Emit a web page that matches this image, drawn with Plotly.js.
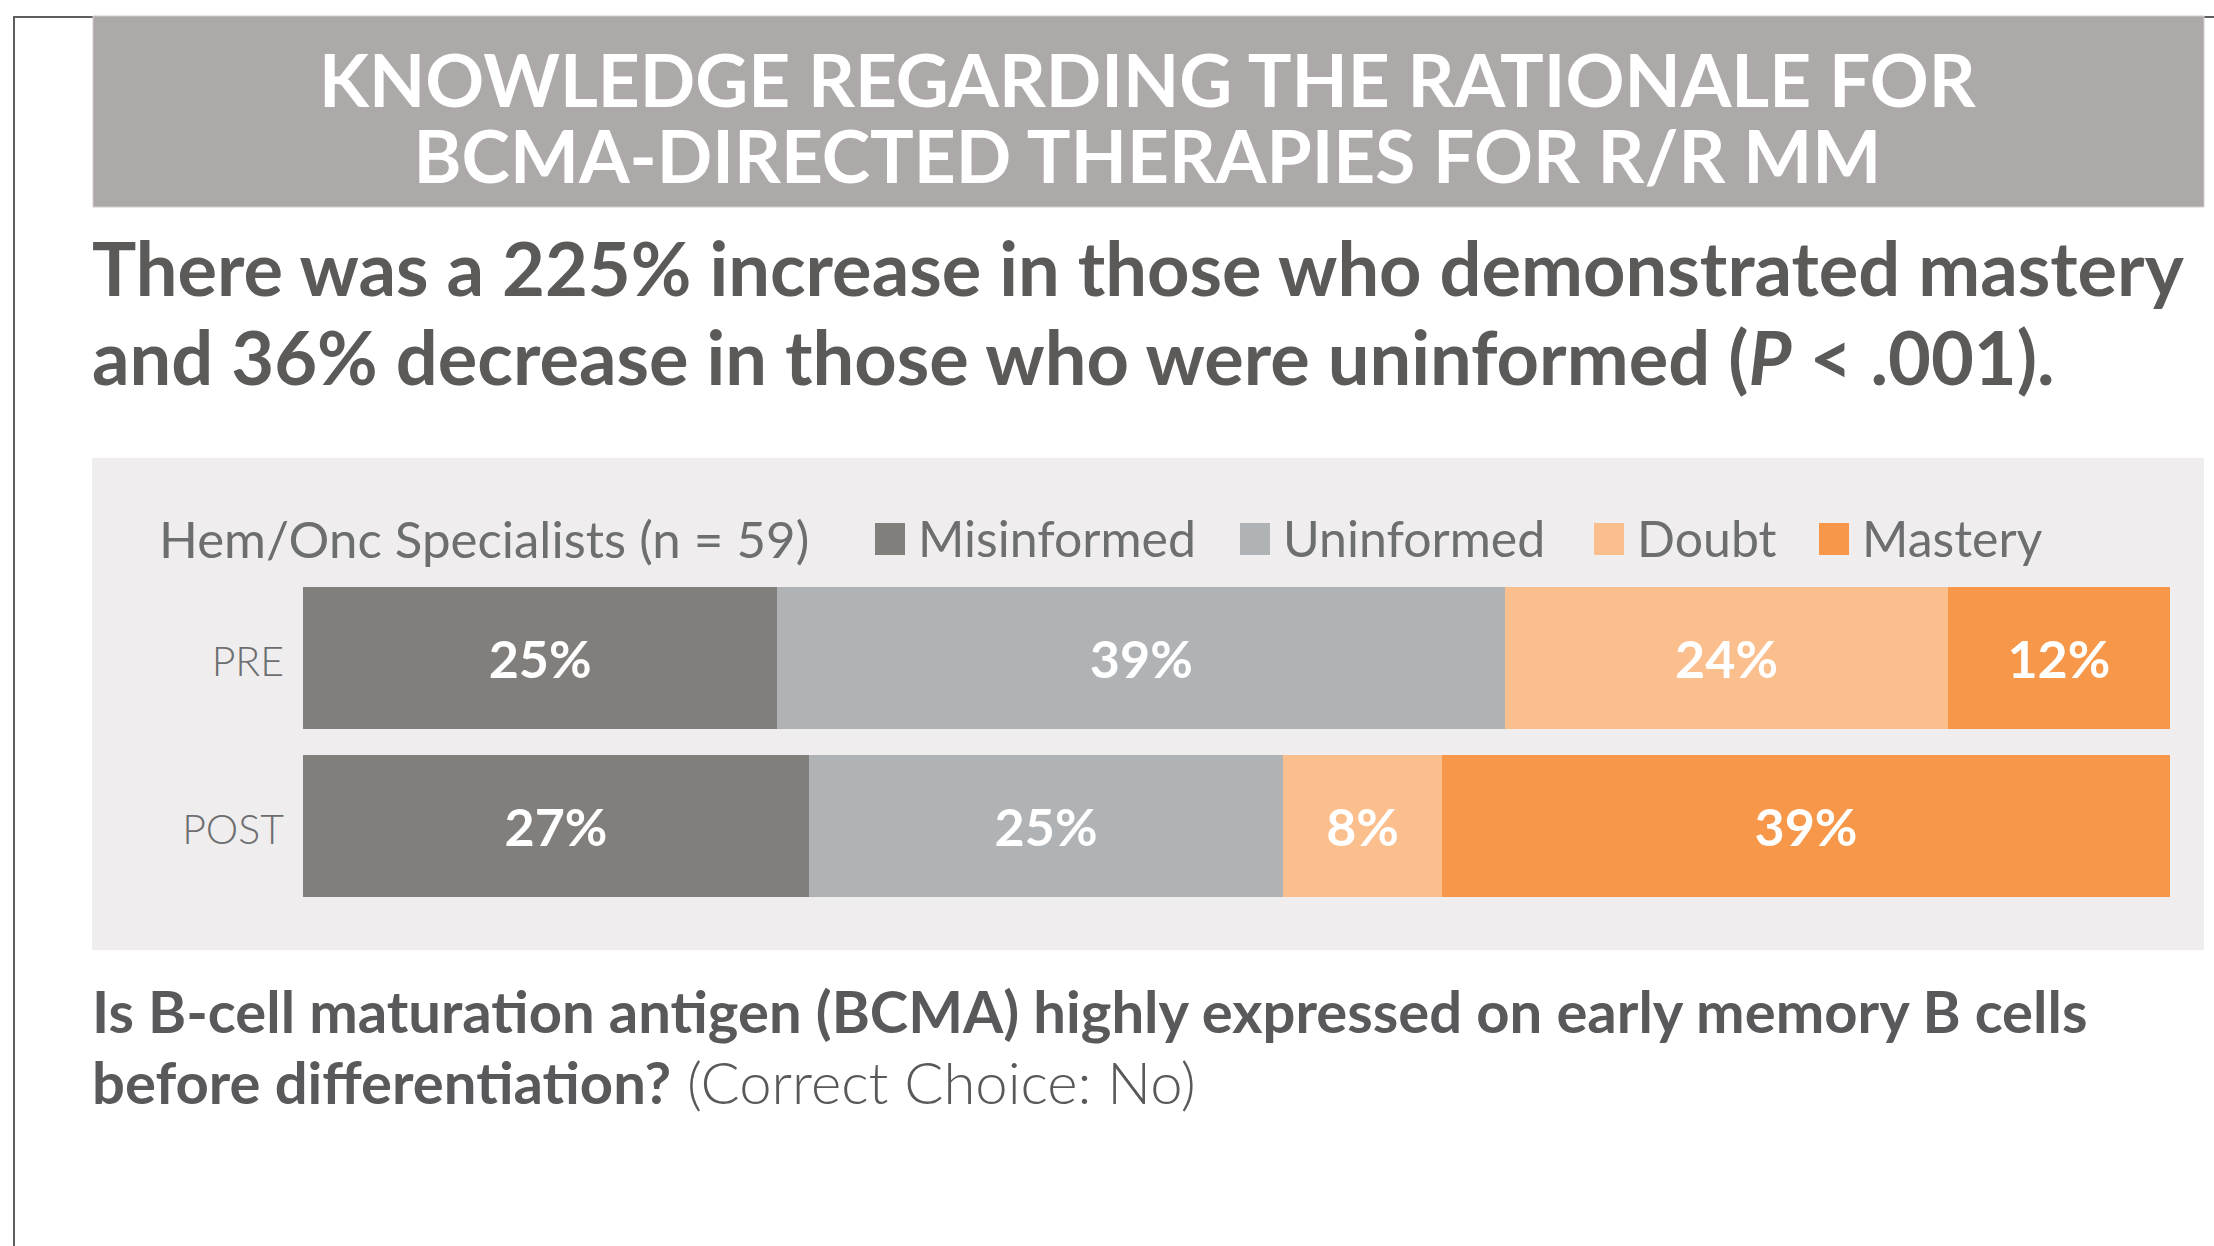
<!DOCTYPE html>
<html>
<head>
<meta charset="utf-8">
<script src="https://cdn.plot.ly/plotly-3.0.1.min.js"></script>
<style>
  html, body { margin: 0; padding: 0; background: #ffffff; }
  #chart { width: 2214px; height: 1246px; }
</style>
</head>
<body>
<div id="chart"></div>
<script>
// ---- data ----
const rows = ['PRE', 'POST'];
const seriesNames = ['Misinformed', 'Uninformed', 'Doubt', 'Mastery'];
const preValues = [25.4, 39.0, 23.7, 11.9];
const postValues = [27.1, 25.4, 8.5, 39.0];
const preLabels = ['25%', '39%', '24%', '12%'];
const postLabels = ['27%', '25%', '8%', '39%'];
const legendHeader = 'Hem/Onc Specialists (n = 59)';
const titleLines = ['KNOWLEDGE REGARDING THE RATIONALE FOR', 'BCMA-DIRECTED THERAPIES FOR R/R MM'];
const subtitleLines = [
  'There was a 225% increase in those who demonstrated mastery',
  'and 36% decrease in those who were uninformed (<i>P</i> &lt; .001).'
];
const questionLines = [
  '<b>Is B-cell maturation antigen (BCMA) highly expressed on early memory B cells</b>',
  '<b>before differentiation?</b><span style="font-weight:300"> (Correct Choice: No)</span>'
];

// ---- styles ----
const W = 2214, H = 1246;
const colors = ['#827E7C', '#B0B3B5', '#FBBF8D', '#F7974A'];
const FONT = 'Lato, "Open Sans", sans-serif';
const px = x => x / W;
const py = y => 1 - y / H;

const traces = seriesNames.map((name, i) => ({
  type: 'bar',
  orientation: 'h',
  name: name,
  y: rows,
  x: [preValues[i], postValues[i]],
  text: [preLabels[i], postLabels[i]],
  textposition: 'inside',
  insidetextanchor: 'middle',
  textangle: 0,
  textfont: { family: FONT, size: 52, color: '#ffffff', weight: 700 },
  marker: { color: colors[i], line: { width: 0 } },
  hoverinfo: 'none'
}));

const shapes = [
  // outer frame
  { type: 'rect', xref: 'paper', yref: 'paper', x0: px(14), x1: px(2240), y0: py(17), y1: py(1260),
    line: { color: '#5E5E5E', width: 2 }, fillcolor: 'rgba(0,0,0,0)', layer: 'below' },
  // title box
  { type: 'rect', xref: 'paper', yref: 'paper', x0: px(93), x1: px(2204), y0: py(16), y1: py(207),
    line: { color: '#CFCDCC', width: 1 }, fillcolor: '#ADA9A8', layer: 'below' },
  // chart panel
  { type: 'rect', xref: 'paper', yref: 'paper', x0: px(92), x1: px(2204), y0: py(458), y1: py(950),
    line: { width: 0 }, fillcolor: '#EFEDED', layer: 'below' }
];

const legendSquareX = [875, 1240, 1594, 1819];
seriesNames.forEach((n, i) => {
  shapes.push({ type: 'rect', xref: 'paper', yref: 'paper',
    x0: px(legendSquareX[i]), x1: px(legendSquareX[i] + 30), y0: py(523), y1: py(555),
    line: { width: 0 }, fillcolor: colors[i], layer: 'above' });
});

const ann = (text, x, y, size, color, weight, xanchor) => ({
  xref: 'paper', yref: 'paper', x: px(x), y: py(y), text: text, showarrow: false,
  xanchor: xanchor || 'left', yanchor: 'middle', align: xanchor === 'center' ? 'center' : 'left',
  font: { family: FONT, size: size, color: color, weight: weight }
});

// title: one text block; line pitch set by base size (58.5 * 1.3 ≈ 76px), glyphs drawn at 73px
const titleText = titleLines.map(t => '<span style="font-size:73px">' + t + '</span>').join('<br>');

const annotations = [
  ann(titleText, 1148, 117, 58.5, '#FFFFFF', 700, 'center'),
  ann(subtitleLines[0], 90, 267, 74, '#5B5A59', 700),
  ann(subtitleLines[1], 90, 356, 74, '#5B5A59', 700),
  ann(legendHeader, 157, 538, 51, '#6D6E70', 400),
  ann(questionLines[0], 90, 1010, 58, '#59595B', 400),
  ann(questionLines[1], 90, 1081, 58, '#59595B', 400)
];
seriesNames.forEach((n, i) => {
  annotations.push(ann(n, legendSquareX[i] + 41, 538, 50, '#6D6E70', 400));
});

const layout = {
  width: W, height: H,
  margin: { l: 0, r: 0, t: 0, b: 0, pad: 0 },
  paper_bgcolor: '#FFFFFF',
  plot_bgcolor: 'rgba(0,0,0,0)',
  barmode: 'stack',
  bargap: 0.155,
  showlegend: false,
  xaxis: {
    domain: [303 / W, 2170 / W], range: [0, 100],
    showgrid: false, zeroline: false, showticklabels: false, showline: false, fixedrange: true
  },
  yaxis: {
    domain: [py(910), py(574)], type: 'category', categoryarray: rows, categoryorder: 'array',
    range: [1.5, -0.5], showgrid: false, zeroline: false, showline: false, ticks: '',
    ticklabelstandoff: 18, ticklabelshift: -4,
    tickfont: { family: FONT, size: 41, color: '#6D6E70', weight: 300 }, fixedrange: true
  },
  shapes: shapes,
  annotations: annotations,
  font: { family: FONT }
};

Plotly.newPlot('chart', traces, layout, { displayModeBar: false, staticPlot: true });
</script>
</body>
</html>
